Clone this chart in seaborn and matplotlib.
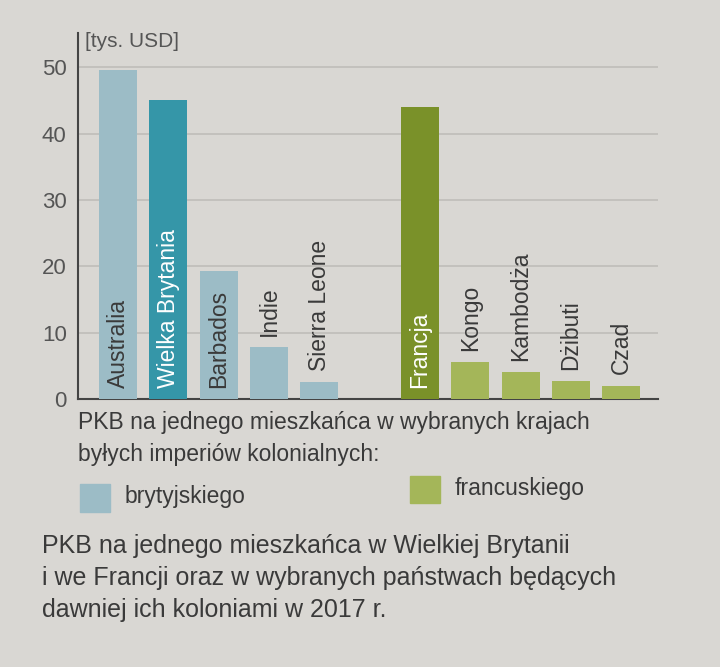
import numpy as np
import pandas as pd
import seaborn as sns
import matplotlib.pyplot as plt
from matplotlib.patches import Rectangle

# PKB na mieszkańca 2017 [tys. USD]
countries = ["Australia", "Wielka Brytania", "Barbados", "Indie", "Sierra Leone",
             "Francja", "Kongo", "Kambodża", "Dżibuti", "Czad"]
values = [49.5, 45.1, 19.2, 7.8, 2.5, 44.0, 5.5, 4.0, 2.7, 2.0]
empire = ["brytyjskiego"] * 5 + ["francuskiego"] * 5
y_ticks = [0, 10, 20, 30, 40, 50]

bg = "#d9d7d3"
light_blue = "#9cbcc6"
dark_blue = "#3596a8"
dark_green = "#7a9129"
light_green = "#a4b659"
text_col = "#3a3a3a"

palette = {}
for c, e in zip(countries, empire):
    if c == "Wielka Brytania":
        palette[c] = dark_blue
    elif c == "Francja":
        palette[c] = dark_green
    elif e == "brytyjskiego":
        palette[c] = light_blue
    else:
        palette[c] = light_green

df = pd.DataFrame({"kraj": countries, "pkb": values, "imperium": empire})
order = countries[:5] + [" "] + countries[5:]

sns.set_theme(style="white")
plt.rcParams["font.family"] = ["Liberation Sans", "DejaVu Sans"]

fig = plt.figure(figsize=(7.2, 6.67), dpi=100, facecolor=bg)
ax = fig.add_axes([0.108, 0.402, 0.806, 0.549])
ax.set_facecolor(bg)

sns.barplot(data=df, x="kraj", y="pkb", hue="kraj", order=order,
            palette=palette, width=0.76, dodge=False, legend=False,
            saturation=1, linewidth=0, ax=ax, zorder=3)

ax.set_xlim(-0.8, 10.73)
ax.set_ylim(0, 55.2)
ax.set_yticks(y_ticks)
ax.yaxis.grid(True, color="#bdbbb7", linewidth=1.1, zorder=0)
ax.set_axisbelow(True)
ax.set_xticks([])
ax.set_xlabel("")
ax.set_ylabel("")
ax.tick_params(axis="y", length=0, pad=8, labelsize=16, labelcolor="#555555")
for side in ["top", "right"]:
    ax.spines[side].set_visible(False)
for side in ["left", "bottom"]:
    ax.spines[side].set_color("#444444")
    ax.spines[side].set_linewidth(1.5)

ax.text(0.012, 0.975, "[tys. USD]", transform=ax.transAxes, ha="left",
        va="center", fontsize=15, color="#555555")

# podpisy krajów pionowo
for c, v in zip(countries, values):
    xpos = order.index(c)
    if v > 15:
        col = "white" if c in ("Wielka Brytania", "Francja") else text_col
        ax.text(xpos, 1.6, c, rotation=90, ha="center", va="bottom",
                fontsize=16.5, color=col, zorder=4)
    else:
        ax.text(xpos, v + 1.7, c, rotation=90, ha="center", va="bottom",
                fontsize=16.5, color=text_col, zorder=4)

# legenda i opis
W, H = 720, 667
fig.text(78 / W, 1 - 422 / H, "PKB na jednego mieszkańca w wybranych krajach",
         fontsize=16.5, color=text_col, va="center")
fig.text(78 / W, 1 - 454 / H, "byłych imperiów kolonialnych:",
         fontsize=16.5, color=text_col, va="center")

fig.add_artist(Rectangle((80 / W, 1 - 512 / H), 30 / W, 28 / H,
                         transform=fig.transFigure, color=light_blue))
fig.text(125 / W, 1 - 497 / H, "brytyjskiego", fontsize=16.5, color=text_col,
         va="center")
fig.add_artist(Rectangle((410 / W, 1 - 503 / H), 30 / W, 27 / H,
                         transform=fig.transFigure, color=light_green))
fig.text(455 / W, 1 - 489 / H, "francuskiego", fontsize=16.5, color=text_col,
         va="center")

caption = ["PKB na jednego mieszkańca w Wielkiej Brytanii",
           "i we Francji oraz w wybranych państwach będących",
           "dawniej ich koloniami w 2017 r."]
for i, line in enumerate(caption):
    fig.text(42 / W, 1 - (546 + 32 * i) / H, line, fontsize=18,
             color=text_col, va="center")

fig.savefig("out.png", dpi=100, facecolor=bg)
